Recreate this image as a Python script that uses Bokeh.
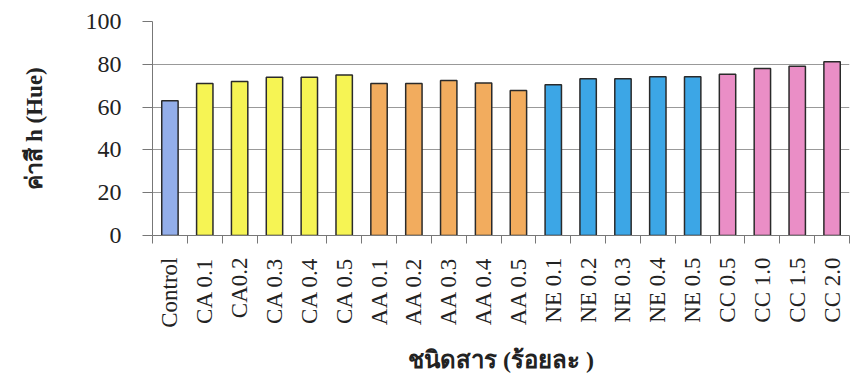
from bokeh.plotting import figure
from bokeh.models import ColumnDataSource, FixedTicker, Range1d
from bokeh.embed import file_html
from bokeh.resources import INLINE

categories = ["Control", "CA 0.1", "CA0.2", "CA 0.3", "CA 0.4", "CA 0.5",
              "AA 0.1", "AA 0.2", "AA 0.3", "AA 0.4", "AA 0.5",
              "NE 0.1", "NE 0.2", "NE 0.3", "NE 0.4", "NE 0.5",
              "CC 0.5", "CC 1.0", "CC 1.5", "CC 2.0"]
hue_values = [63, 71, 72, 74, 74, 75,
              71, 71, 72.4, 71.3, 67.8,
              70.4, 73.2, 73.2, 74.2, 74.2,
              75.4, 78, 79.1, 81.2]
groups = ["Control"] + ["CA"] * 5 + ["AA"] * 5 + ["NE"] * 5 + ["CC"] * 4
group_colors = {"Control": "#93aeea", "CA": "#f6f454", "AA": "#f2ac5e",
                "NE": "#3ca6e6", "CC": "#ea8ec6"}
y_ticks = [0, 20, 40, 60, 80, 100]
x_title = "ชนิดสาร (ร้อยละ )"
y_title = "ค่าสี h (Hue)"

n = len(categories)
xs = list(range(n))
src = ColumnDataSource(dict(x=xs, top=hue_values,
                            color=[group_colors[g] for g in groups]))

p = figure(width=851, height=385, output_backend="svg", toolbar_location=None,
           x_range=Range1d(-0.5, n - 0.5), y_range=Range1d(0, 100),
           min_border_left=152, min_border_right=2, min_border_top=21,
           min_border_bottom=150)
p.outline_line_color = None
p.background_fill_color = None
p.border_fill_color = "white"

p.vbar(x="x", top="top", width=0.47, bottom=0, source=src,
       fill_color="color", line_color="#2a2a2a", line_width=1.5)

# axes
p.xaxis.ticker = FixedTicker(ticks=xs, minor_ticks=[i + 0.5 for i in range(-1, n)])
p.xaxis.major_label_overrides = {i: c for i, c in enumerate(categories)}
p.xaxis.major_label_orientation = 3.14159265 / 2
p.xaxis.major_tick_out = 0
p.xaxis.major_tick_in = 0
p.xaxis.minor_tick_out = 8
p.xaxis.minor_tick_in = 0
p.xaxis.minor_tick_line_color = "#777777"
p.xaxis.axis_line_color = "#777777"
p.xaxis.major_label_text_font = "Liberation Serif"
p.xaxis.major_label_text_font_size = "23px"
p.xaxis.major_label_text_color = "#222222"
p.xaxis.major_label_standoff = 14
p.xaxis.axis_label = x_title
p.xaxis.axis_label_text_font = "Liberation Serif"
p.xaxis.axis_label_text_font_style = "bold"
p.xaxis.axis_label_text_font_size = "24px"
p.xaxis.axis_label_text_color = "#222222"
p.xaxis.axis_label_standoff = 16

p.yaxis.ticker = FixedTicker(ticks=y_ticks)
p.yaxis.minor_tick_line_color = None
p.yaxis.major_tick_out = 10
p.yaxis.major_tick_in = 0
p.yaxis.major_tick_line_color = "#777777"
p.yaxis.axis_line_color = "#777777"
p.yaxis.major_label_text_font = "Liberation Serif"
p.yaxis.major_label_text_font_size = "24px"
p.yaxis.major_label_text_color = "#222222"
p.yaxis.major_label_standoff = 21
p.yaxis.axis_label = y_title
p.yaxis.axis_label_text_font = "Liberation Serif"
p.yaxis.axis_label_text_font_style = "bold"
p.yaxis.axis_label_text_font_size = "23px"
p.yaxis.axis_label_text_color = "#222222"
p.yaxis.axis_label_standoff = 36

p.xgrid.grid_line_color = None
p.ygrid.grid_line_color = "#999999"
p.ygrid.grid_line_width = 1

open("out.html", "w").write(file_html(p, INLINE))
